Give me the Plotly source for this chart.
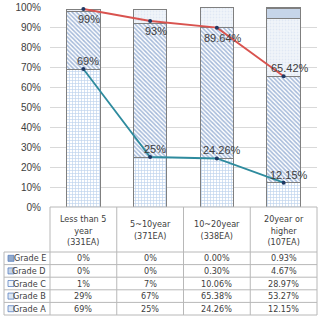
import plotly.graph_objects as go

# ---- data ----
categories = ["Less than 5<br>year<br>(331EA)", "5~10year<br>(371EA)",
              "10~20year<br>(338EA)", "20year or<br>higher<br>(107EA)"]
grade_a = [69, 25, 24.26, 12.15]
grade_b = [29, 67, 65.38, 53.27]
grade_c = [1, 7, 10.06, 28.97]
grade_d = [0, 0, 0.30, 4.67]
grade_e = [0, 0, 0.00, 0.93]
line_ab = [99, 93, 89.64, 65.42]
line_a = [69, 25, 24.26, 12.15]
col_fmt = ["{:.0f}%", "{:.0f}%", "{:.2f}%", "{:.2f}%"]
y_ticks = [0, 10, 20, 30, 40, 50, 60, 70, 80, 90, 100]

W, H = 319, 319
L, R, T, B = 50, 2, 7, 112
PW, PH = W - L - R, H - T - B

def py(p):  # pixel y -> paper y
    return (H - B - p) / PH

def px(p):  # pixel x -> paper x
    return (p - L) / PW

FONT = "Liberation Sans Narrow, Arial Narrow, DejaVu Sans Condensed, sans-serif"
TXT = "#404040"

series = [
    ("Grade A", grade_a, dict(shape="+", fgcolor="#7fa7db", bgcolor="#ffffff", size=3, solidity=0.4)),
    ("Grade B", grade_b, dict(shape="\\", fgcolor="#4a74b4", bgcolor="#ffffff", size=3, solidity=0.5)),
    ("Grade C", grade_c, dict(shape=".", fgcolor="#d0dcee", bgcolor="#f1f5fa", size=3, solidity=0.3)),
    ("Grade D", grade_d, dict(shape="", fgcolor="#c6d5e9", bgcolor="#c6d5e9")),
    ("Grade E", grade_e, dict(shape=".", fgcolor="#5d7aa6", bgcolor="#93aacb", size=2, solidity=0.4)),
]

fig = go.Figure()
for name, vals, pat in series:
    fig.add_trace(go.Bar(
        x=categories, y=vals, name=name, width=0.5,
        marker=dict(color=pat["bgcolor"], pattern=pat,
                    line=dict(color="#7f7f7f", width=1)),
        hoverinfo="skip"))

fig.add_trace(go.Scatter(x=categories, y=line_ab, mode="lines+markers",
                         line=dict(color="#d9534f", width=1.8),
                         marker=dict(color="#1f3864", size=4)))
fig.add_trace(go.Scatter(x=categories, y=line_a, mode="lines+markers",
                         line=dict(color="#2e8b9e", width=1.8),
                         marker=dict(color="#1f3864", size=4)))

ann = []
# data labels
for i, c in enumerate(categories):
    ys = -10 if i < 3 else 8
    ann.append(dict(x=c, y=line_ab[i], xref="x", yref="y", text=col_fmt[i].format(line_ab[i]),
                    showarrow=False, xshift=6, yshift=ys,
                    font=dict(family="Liberation Sans, Arial", size=11, color=TXT)))
    ann.append(dict(x=c, y=line_a[i], xref="x", yref="y", text=col_fmt[i].format(line_a[i]),
                    showarrow=False, xshift=5, yshift=8,
                    font=dict(family="Liberation Sans, Arial", size=11, color=TXT)))

# table header
for c in categories:
    ann.append(dict(x=c, y=py(230), xref="x", yref="paper", text=c, showarrow=False,
                    yanchor="middle", font=dict(family=FONT, size=9, color=TXT)))

# table rows
row_top = 252
row_h = 12.6
rows = list(reversed(series))  # E, D, C, B, A
shapes = []
for r, (name, vals, pat) in enumerate(rows):
    yc = row_top + row_h * (r + 0.5)
    ann.append(dict(x=px(48), y=py(yc), xref="paper", yref="paper", text=name,
                    showarrow=False, xanchor="right", yanchor="middle",
                    font=dict(family=FONT, size=9, color=TXT)))
    shapes.append(dict(type="rect", xref="paper", yref="paper",
                       x0=px(8), x1=px(14), y0=py(yc + 3), y1=py(yc - 3),
                       fillcolor=pat["bgcolor"] if pat["bgcolor"] != "#ffffff" else "#dde7f3",
                       line=dict(color="#5b82c0", width=0.8)))
    for i, c in enumerate(categories):
        ann.append(dict(x=c, y=py(yc), xref="x", yref="paper", text=col_fmt[i].format(vals[i]),
                        showarrow=False, yanchor="middle",
                        font=dict(family=FONT, size=9, color=TXT)))

GRID = "#b8b8b8"
# horizontal table lines
for r in range(6):
    yy = py(row_top + row_h * r)
    shapes.append(dict(type="line", xref="paper", yref="paper", x0=px(4), x1=1,
                       y0=yy, y1=yy, line=dict(color=GRID, width=1)))
# vertical table lines
for k in range(5):
    xx = k / 4
    shapes.append(dict(type="line", xref="paper", yref="paper", x0=xx, x1=xx,
                       y0=0, y1=py(row_top + row_h * 5), line=dict(color=GRID, width=1)))
shapes.append(dict(type="line", xref="paper", yref="paper", x0=px(4), x1=px(4),
                   y0=py(row_top), y1=py(row_top + row_h * 5), line=dict(color=GRID, width=1)))
shapes.append(dict(type="line", xref="paper", yref="paper", x0=0, x1=1,
                   y0=0, y1=0, line=dict(color=GRID, width=1)))

fig.update_layout(
    width=W, height=H, barmode="stack", showlegend=False,
    margin=dict(l=L, r=R, t=T, b=B),
    paper_bgcolor="white", plot_bgcolor="white",
    xaxis=dict(showticklabels=False, showgrid=False, zeroline=False, fixedrange=True),
    yaxis=dict(range=[0, 100], tickvals=y_ticks, ticktext=[f"{v}%" for v in y_ticks],
               showgrid=True, gridcolor="#d9d9d9", zeroline=False, ticklabelstandoff=8,
               tickfont=dict(family="Liberation Sans, Arial", size=10, color=TXT)),
    annotations=ann, shapes=shapes,
)
fig.write_html("out.html")
